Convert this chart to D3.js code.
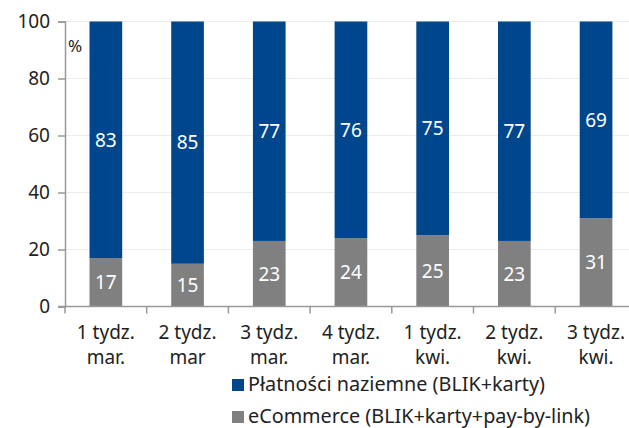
<!DOCTYPE html>
<html><head><meta charset="utf-8">
<script src="https://cdn.jsdelivr.net/npm/d3@7/dist/d3.min.js"></script>
<style>body{margin:0;background:#fff}svg{display:block}text{font-family:"Noto Sans","Open Sans",sans-serif}</style>
</head><body><svg id="c" width="629" height="428"></svg>
<script>
const categories = [["1 tydz.","mar."],["2 tydz.","mar"],["3 tydz.","mar."],["4 tydz.","mar."],["1 tydz.","kwi."],["2 tydz.","kwi."],["3 tydz.","kwi."]];
const ecommerce = [17,15,23,24,25,23,31];
const naziemne = [83,85,77,76,75,77,69];
const yTicks = [0,20,40,60,80,100];
const seriesNames = ["Płatności naziemne (BLIK+karty)","eCommerce (BLIK+karty+pay-by-link)"];
const colors = ["#00468C","#808080"];

const svg = d3.select("#c");
const FS = 19;
const x0 = 65, bw = 81.7;
const x = d3.scaleBand().domain(d3.range(categories.length)).range([x0, x0 + bw*categories.length]).paddingInner(0.6).paddingOuter(0.3);
const y = d3.scaleLinear().domain([0,100]).range([306.5, 21.5]);

// gridlines
svg.append("g").selectAll("line").data(yTicks.filter(d=>d>0)).join("line")
  .attr("x1", x0).attr("x2", 629).attr("y1", d=>y(d)).attr("y2", d=>y(d))
  .attr("stroke", "#ececec").attr("stroke-width", 1);

// bars
const g = svg.append("g");
categories.forEach((c,i)=>{
  g.append("rect").attr("x", x(i)).attr("width", x.bandwidth())
    .attr("y", y(ecommerce[i])).attr("height", y(0)-y(ecommerce[i])).attr("fill", colors[1]);
  g.append("rect").attr("x", x(i)).attr("width", x.bandwidth())
    .attr("y", y(ecommerce[i]+naziemne[i])).attr("height", y(ecommerce[i])-y(ecommerce[i]+naziemne[i])).attr("fill", colors[0]);
  g.append("text").attr("x", x(i)+x.bandwidth()/2).attr("y", y(ecommerce[i]/2)).attr("dy","0.36em")
    .attr("text-anchor","middle").attr("fill","#fff").attr("font-size",FS).text(ecommerce[i]);
  g.append("text").attr("x", x(i)+x.bandwidth()/2).attr("y", y(ecommerce[i]+naziemne[i]/2)).attr("dy","0.36em")
    .attr("text-anchor","middle").attr("fill","#fff").attr("font-size",FS).text(naziemne[i]);
});

// y axis
const yAxis = svg.append("g").attr("transform",`translate(${x0},0)`)
  .call(d3.axisLeft(y).tickValues(yTicks).tickSize(7).tickPadding(8));
yAxis.select(".domain").attr("stroke","#999").attr("stroke-width",1.5);
yAxis.selectAll(".tick line").attr("stroke","#999").attr("stroke-width",1.5);
yAxis.selectAll(".tick text").attr("fill","#222").attr("font-size",FS).attr("font-family",'"Noto Sans","Open Sans",sans-serif');
svg.append("text").attr("x",68).attr("y",52).attr("font-size",17).attr("fill","#222").text("%");

// x axis
const xAxisG = svg.append("g");
xAxisG.append("line").attr("x1",x0-7).attr("x2",x0+bw*categories.length).attr("y1",y(0)).attr("y2",y(0)).attr("stroke","#999").attr("stroke-width",1.5);
d3.range(categories.length+1).forEach(i=>{
  xAxisG.append("line").attr("x1",x0+i*bw).attr("x2",x0+i*bw).attr("y1",y(0)).attr("y2",y(0)+7).attr("stroke","#999").attr("stroke-width",1.5);
});
categories.forEach((c,i)=>{
  const t = xAxisG.append("text").attr("text-anchor","middle").attr("font-size",FS).attr("fill","#222");
  c.forEach((line,j)=>t.append("tspan").attr("x",x(i)+x.bandwidth()/2).attr("y",339+j*25).text(line));
});

// legend
seriesNames.forEach((n,i)=>{
  svg.append("rect").attr("x",232).attr("y",379+i*32).attr("width",12).attr("height",12).attr("fill",colors[i]);
  svg.append("text").attr("x",248).attr("y",391+i*32).attr("font-size",19.8).attr("fill","#222").text(n);
});
</script></body></html>
